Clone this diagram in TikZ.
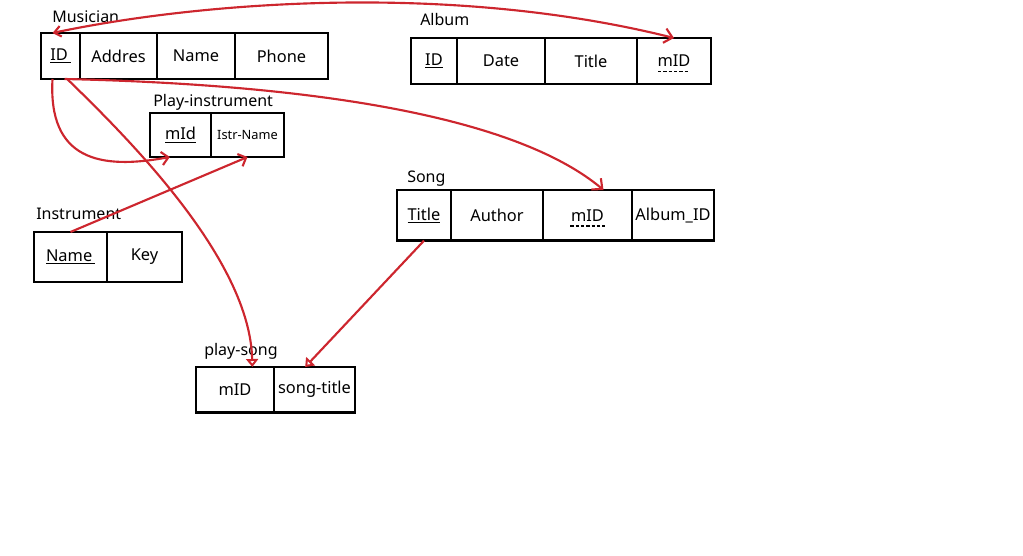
\documentclass[tikz,border=0pt]{standalone}
\usepackage{fontspec}
\setmainfont{Noto Sans}
\usetikzlibrary{positioning,arrows.meta}
\definecolor{pen}{RGB}{205,38,46}
\begin{document}
\begin{tikzpicture}[x=0.75pt,y=-0.75pt]
	\tikzstyle{cell} = [draw, line width=2.2pt, outer sep=0pt, inner sep=1pt, font=\fontsize{12.3}{14}\selectfont]
	\tikzstyle{tname} = [anchor=base west, inner sep=0pt, font=\fontsize{12}{14}\selectfont]
	\tikzstyle{link} = [pen, line width=1.6pt]
	\tikzstyle{fk} = [line width=1.3pt, dash pattern=on 2.5pt off 1.5pt]
	\useasboundingbox (0,0) rectangle (1023,556);

	\node[tname] (musl) at (52,23) {Musician};
	\node[cell, minimum height=34.5pt, minimum width=29.25pt, anchor=north west] (musid) at (41,33) {\underline{ID\,}};
	\node[cell, minimum height=34.5pt, minimum width=57.75pt] (musaddr) [right=0pt of musid] {Addres};
	\node[cell, minimum height=34.5pt, minimum width=58.5pt] (musname) [right=0pt of musaddr] {Name};
	\node[cell, minimum height=34.5pt, minimum width=69.75pt] (musphone) [right=0pt of musname] {Phone};

	\node[tname] (albl) at (420,26) {Album};
	\node[cell, minimum height=34.5pt, minimum width=34.5pt, anchor=north west] (albid) at (411,38) {\underline{ID}};
	\node[cell, minimum height=34.5pt, minimum width=66pt] (albdate) [right=0pt of albid] {Date};
	\node[cell, minimum height=34.5pt, minimum width=69pt] (albtitle) [right=0pt of albdate] {Title};
	\node[cell, minimum height=34.5pt, minimum width=55.5pt] (albmid) [right=0pt of albtitle] {mID};
	\draw[fk] ([xshift=-12pt,yshift=-3.5pt]albmid.base) -- ([xshift=12pt,yshift=-3.5pt]albmid.base);

	\node[tname] (pil) at (153,107) {\underline{Play-instrument}};
	\node[cell, minimum height=33pt, minimum width=45.75pt, anchor=north west] (pimid) at (150,113) {\underline{mId}};
	\node[cell, minimum height=33pt, minimum width=54.75pt, font=\fontsize{9.6}{11}\selectfont] (piname) [right=0pt of pimid] {Istr-Name};

	\node[tname] (instl) at (36,219) {Instrument};
	\node[cell, minimum height=37.5pt, minimum width=54.75pt, anchor=north west] (instname) at (34,232) {\underline{Name\,}};
	\node[cell, minimum height=37.5pt, minimum width=56.25pt] (instkey) [right=0pt of instname] {Key};

	\node[tname] (songl) at (407,182) {Song};
	\node[cell, minimum height=38pt, minimum width=40.5pt, anchor=north west] (songtitle) at (397,190) {\underline{Title}};
	\node[cell, minimum height=38pt, minimum width=69pt] (songauth) [right=0pt of songtitle] {Author};
	\node[cell, minimum height=38pt, minimum width=66.75pt] (songmid) [right=0pt of songauth] {mID};
	\node[cell, minimum height=38pt, minimum width=61.5pt] (songalb) [right=0pt of songmid] {Album\_ID};
	\draw[fk] ([xshift=-13pt,yshift=-3.5pt]songmid.base) -- ([xshift=13pt,yshift=-3.5pt]songmid.base);

	\node[tname] (psl) at (204,355) {play-song};
	\node[cell, minimum height=34pt, minimum width=58.5pt, anchor=north west] (psmid) at (196,367) {mID};
	\node[cell, minimum height=34pt, minimum width=60.75pt] (pstitle) [right=0pt of psmid] {song-title};

	\draw[link, {Straight Barb[length=5pt,width=8pt]}-{Straight Barb[length=6pt,width=11pt]}] ([xshift=-6pt]musid.north) .. controls (200,2) and (450,-18) .. (albmid.north);
	\draw[link, -{Straight Barb[length=6pt,width=11pt]}] ([xshift=3pt]musid.south) .. controls (330,85) and (520,120) .. ([xshift=12pt]songmid.north);
	\draw[link, -{Straight Barb[length=5pt,width=10pt]}] ([xshift=-6pt]musid.south) .. controls (48,160) and (100,170) .. ([xshift=-8pt]pimid.south);
	\draw[link, -{Triangle[open,length=6pt,width=9pt]}] ([xshift=5pt]musid.south) .. controls (130,140) and (250,260) .. ([xshift=13pt]psmid.north);
	\draw[link, -{Straight Barb[length=5pt,width=10pt]}] (instname.north) -- (piname.south);
	\draw[link, -{Triangle[open,length=6pt,width=9pt]}] (songtitle.south) -- ([xshift=-7pt]pstitle.north);
\end{tikzpicture}
\end{document}
